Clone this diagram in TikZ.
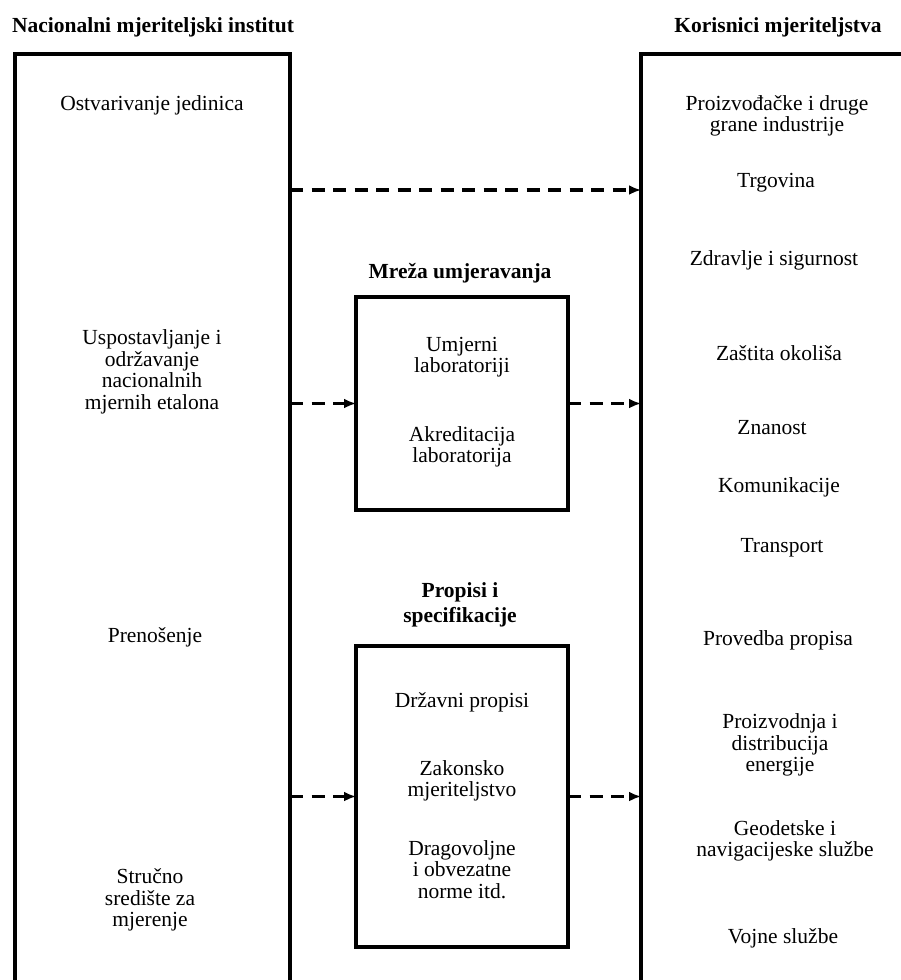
\documentclass[tikz,border=0pt]{standalone}
\usepackage{fontspec}
\setmainfont{Liberation Serif}
\usetikzlibrary{arrows.meta}
\begin{document}
\begin{tikzpicture}[x=1pt,y=-1pt,
  frame/.style={draw, rectangle, line width=3.3pt, inner sep=0pt, outer sep=0pt},
  txt/.style={font=\fontsize{21.5}{21.5}\selectfont, align=center, inner sep=0pt},
  head/.style={font=\bfseries\fontsize{21.5}{25}\selectfont, align=center, inner sep=0pt},
  flow/.style={line width=3.3pt, dash pattern=on 13pt off 8.5pt,
    -{Latex[length=12pt,width=10pt]}}]
\useasboundingbox (0,0) rectangle (901,980);
\clip (0,0) rectangle (901,980);

% column frames (open towards the bottom)
\node[frame, minimum width=275pt, minimum height=980pt, anchor=north west] (nmi) at (15,54) {};
\node[frame, minimum width=300pt, minimum height=980pt, anchor=north west] (kor) at (641,54) {};

% inner boxes
\node[frame, minimum width=212pt, minimum height=213pt] (mreza) at (462,403.5) {};
\node[frame, minimum width=212pt, minimum height=301pt] (propisi) at (462,796.5) {};

% headings
\node[head] (nmihead) at (153,27) {Nacionalni mjeriteljski institut};
\node[head] (korhead) at (778,27) {Korisnici mjeriteljstva};
\node[head] (mrezahead) at (460,273) {Mreža umjeravanja};
\node[head] (propisihead) at (460,605) {Propisi i\\specifikacije};

% national institute
\node[txt] (ostv) at (152,105) {Ostvarivanje jedinica};
\node[txt] (usp) at (152,372) {Uspostavljanje i\\održavanje\\nacionalnih\\mjernih etalona};
\node[txt] (pren) at (155,637) {Prenošenje};
\node[txt] (stru) at (150,900) {Stručno\\središte za\\mjerenje};

% calibration network
\node[txt] (umj) at (462,357) {Umjerni\\laboratoriji};
\node[txt] (akr) at (462,447) {Akreditacija\\laboratorija};

% regulations
\node[txt] (drz) at (462,702) {Državni propisi};
\node[txt] (zak) at (462,781) {Zakonsko\\mjeriteljstvo};
\node[txt] (drag) at (462,869.5) {Dragovoljne\\i obvezatne\\norme itd.};

% users
\node[txt] (ind) at (777,116) {Proizvođačke i druge\\grane industrije};
\node[txt] (trg) at (776,183) {Trgovina};
\node[txt] (zdr) at (774,260) {Zdravlje i sigurnost};
\node[txt] (zas) at (779,353) {Zaštita okoliša};
\node[txt] (zna) at (772,428) {Znanost};
\node[txt] (kom) at (779,487) {Komunikacije};
\node[txt] (tra) at (782,548) {Transport};
\node[txt] (prov) at (778,640) {Provedba propisa};
\node[txt] (ene) at (780,745) {Proizvodnja i\\distribucija\\energije};
\node[txt] (geo) at (785,841) {Geodetske i\\navigacijeske službe};
\node[txt] (voj) at (783,938) {Vojne službe};

% flows
\coordinate (direct) at (0,190);
\draw[flow] (nmi.east |- direct) -- (kor.west |- direct);
\draw[flow] (nmi.east |- mreza.west) -- (mreza.west);
\draw[flow] (mreza.east) -- (kor.west |- mreza.east);
\draw[flow] (nmi.east |- propisi.west) -- (propisi.west);
\draw[flow] (propisi.east) -- (kor.west |- propisi.east);
\end{tikzpicture}
\end{document}
